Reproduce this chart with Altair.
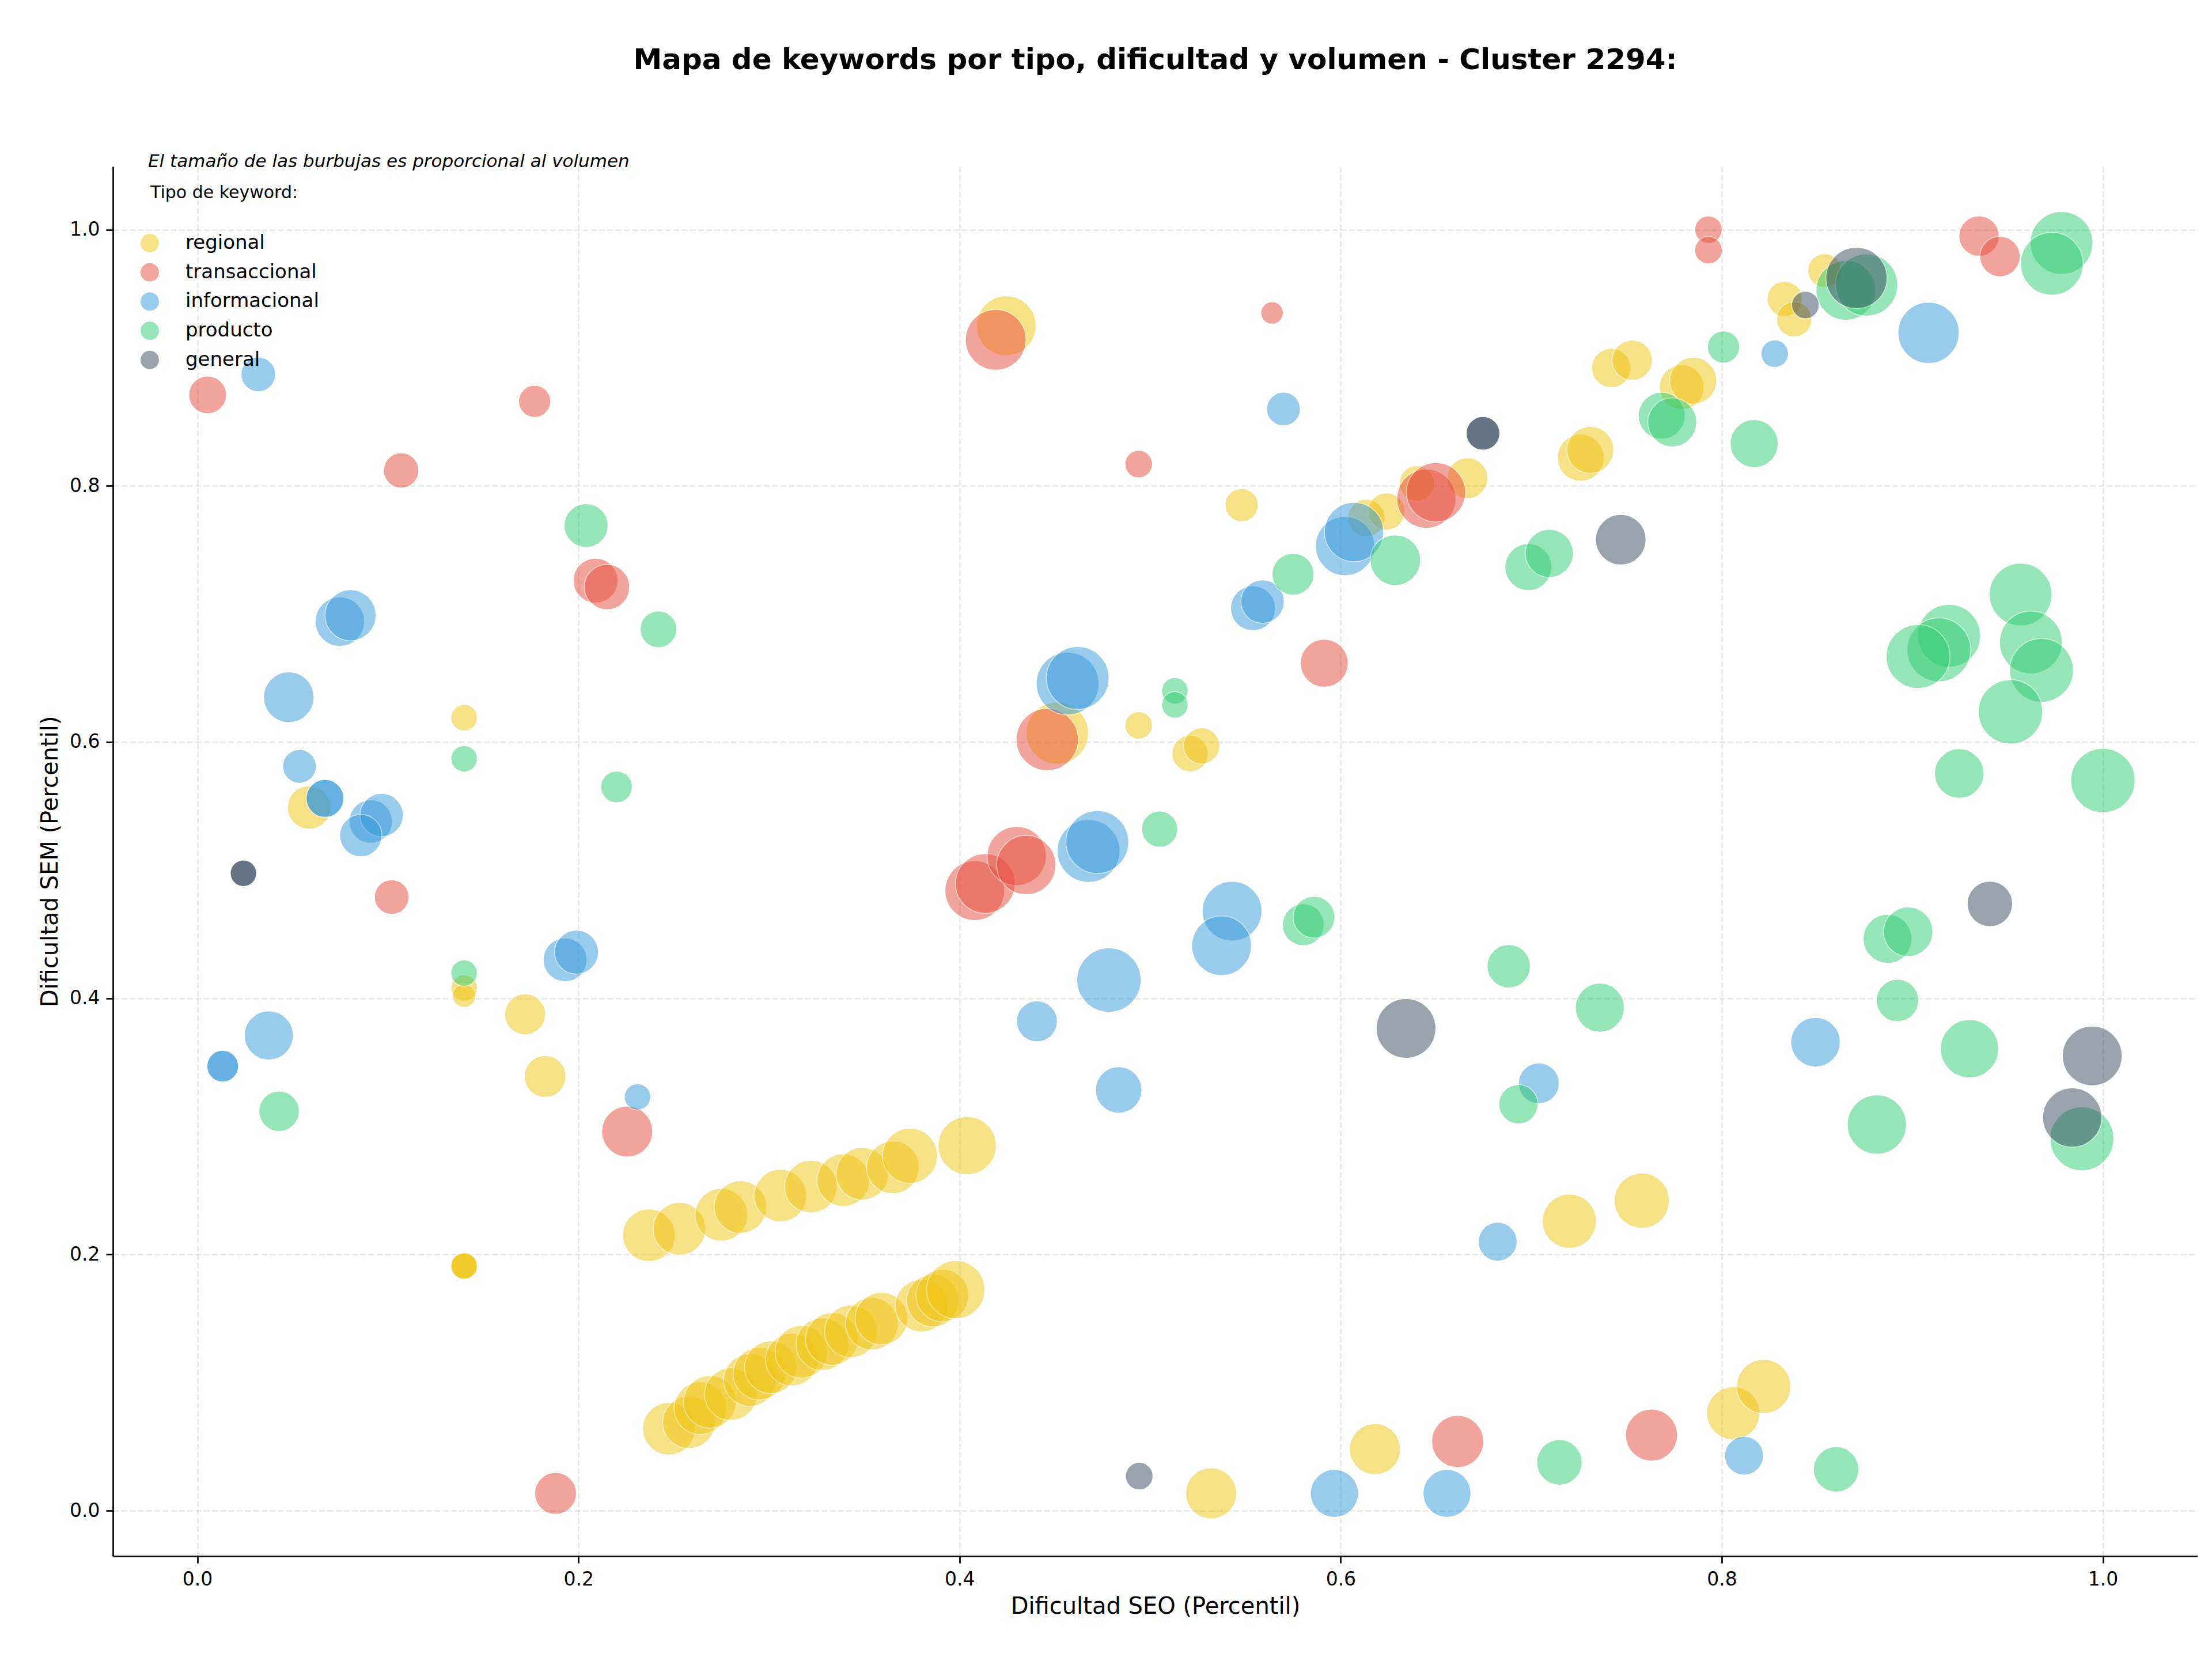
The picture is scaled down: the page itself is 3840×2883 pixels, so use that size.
import altair as alt
import pandas as pd

TITULO = "Mapa de keywords por tipo, dificultad y volumen - Cluster 2294:"
SUBTITULO = "El tamaño de las burbujas es proporcional al volumen"
TITULO_LEYENDA = "Tipo de keyword:"
TIPOS = ["regional", "transaccional", "informacional", "producto", "general"]
COLORES = ["#F1C40F", "#E74C3C", "#3498DB", "#2ECC71", "#34495E"]
TICKS = [0.0, 0.2, 0.4, 0.6, 0.8, 1.0]

# --- regional ---
reg_seo = [0.0587, 0.140, 0.140, 0.140, 0.172, 0.1825, 0.140, 0.140, 0.140,
           0.237, 0.253, 0.275, 0.285, 0.306, 0.322, 0.339, 0.349, 0.365, 0.374, 0.404,
           0.2475, 0.258, 0.264, 0.269, 0.280, 0.290, 0.295, 0.301, 0.312, 0.317,
           0.328, 0.333, 0.343, 0.354, 0.359, 0.380, 0.386, 0.391, 0.398,
           0.4245, 0.4513, 0.494, 0.521, 0.527, 0.548, 0.6135, 0.624, 0.640, 0.6665,
           0.532, 0.618, 0.720, 0.758, 0.806, 0.822,
           0.726, 0.731, 0.742, 0.753, 0.779, 0.785, 0.833, 0.838, 0.854]
reg_sem = [0.549, 0.619, 0.408, 0.402, 0.3875, 0.339, 0.191, 0.191, 0.191,
           0.215, 0.220, 0.231, 0.237, 0.246, 0.253, 0.258, 0.263, 0.268, 0.277, 0.285,
           0.064, 0.069, 0.080, 0.085, 0.091, 0.102, 0.107, 0.112, 0.118, 0.124,
           0.130, 0.134, 0.140, 0.146, 0.150, 0.160, 0.164, 0.168, 0.1725,
           0.925, 0.607, 0.613, 0.591, 0.597, 0.785, 0.775, 0.780, 0.802, 0.806,
           0.0135, 0.048, 0.226, 0.242, 0.076, 0.097,
           0.822, 0.828, 0.892, 0.898, 0.877, 0.882, 0.946, 0.930, 0.968]
reg_vol = [723, 270, 270, 212, 640, 672, 270, 270, 270,
           1061, 1061, 1061, 1061, 1061, 1061, 1061, 1061, 1061, 1166, 1300,
           1061, 1061, 1061, 1061, 1061, 1061, 1061, 1061, 1061, 1061,
           1061, 1061, 1061, 1061, 1061, 1061, 1061, 1061, 1300,
           1369, 1488, 292, 504, 504, 423, 533, 533, 476, 640,
           1000, 1000, 1124, 1166, 1082, 1124,
           846, 846, 593, 624, 774, 846, 476, 476, 436]

# --- transaccional ---
tra_seo = [0.0054, 0.177, 0.107, 0.209, 0.215, 0.102, 0.2256, 0.188, 0.419, 0.564,
           0.494, 0.645, 0.650, 0.5914, 0.446, 0.408, 0.4135, 0.430, 0.435, 0.6614,
           0.7631, 0.793, 0.793, 0.935, 0.946]
tra_sem = [0.871, 0.866, 0.812, 0.726, 0.721, 0.479, 0.296, 0.0135, 0.914, 0.935,
           0.817, 0.790, 0.795, 0.6616, 0.602, 0.484, 0.4896, 0.511, 0.504, 0.054,
           0.059, 1.0, 0.984, 0.995, 0.979]
tra_vol = [548, 397, 476, 774, 792, 462, 1000, 672, 1416, 194,
           292, 1346, 1346, 884, 1488, 1369, 1369, 1346, 1346, 1040,
           1040, 292, 292, 624, 624]

# --- informacional ---
inf_seo = [0.032, 0.0748, 0.0804, 0.048, 0.0536, 0.067, 0.067, 0.091, 0.0967, 0.0858,
           0.193, 0.199, 0.0375, 0.0133, 0.0133, 0.231, 0.570, 0.6023, 0.607, 0.554,
           0.559, 0.4567, 0.462, 0.4677, 0.4723, 0.543, 0.5375, 0.4784, 0.4406, 0.4835,
           0.5967, 0.6558, 0.6824, 0.704, 0.8117, 0.8492, 0.8278, 0.9085]
inf_sem = [0.887, 0.694, 0.699, 0.635, 0.581, 0.556, 0.556, 0.538, 0.543, 0.527,
           0.430, 0.436, 0.371, 0.347, 0.347, 0.323, 0.860, 0.753, 0.764, 0.7045,
           0.7097, 0.6457, 0.650, 0.515, 0.522, 0.468, 0.441, 0.4142, 0.382, 0.3284,
           0.0135, 0.0135, 0.210, 0.3336, 0.0429, 0.3657, 0.9032, 0.9195]
inf_vol = [462, 941, 1000, 980, 436, 548, 548, 723, 723, 689,
           740, 740, 922, 384, 384, 270, 436, 1346, 1346, 774,
           723, 1513, 1513, 1513, 1513, 1369, 1369, 1588, 640, 828,
           884, 884, 578, 640, 578, 941, 292, 1440]

# --- producto ---
pro_seo = [0.204, 0.242, 0.140, 0.220, 0.140, 0.0429, 0.513, 0.513, 0.505, 0.575,
           0.6287, 0.5804, 0.586, 0.6882, 0.736, 0.6933, 0.7148, 0.86, 0.887, 0.8978,
           0.8922, 0.93, 0.8814, 0.989, 0.6985, 0.7095, 0.7685, 0.774, 0.817, 0.8009,
           0.8651, 0.876, 0.9783, 0.9732, 0.9568, 0.9193, 0.9139, 0.903, 0.9622, 0.9678,
           0.9515, 0.9246, 1.0]
pro_sem = [0.769, 0.688, 0.587, 0.565, 0.4197, 0.3118, 0.640, 0.629, 0.532, 0.731,
           0.742, 0.4574, 0.4633, 0.425, 0.3927, 0.3173, 0.0377, 0.0322, 0.4464, 0.4519,
           0.3983, 0.3606, 0.3014, 0.2903, 0.7366, 0.7473, 0.8548, 0.8496, 0.833, 0.9084,
           0.9526, 0.9568, 0.9896, 0.9734, 0.7152, 0.683, 0.672, 0.6668, 0.6778, 0.656,
           0.6236, 0.5755, 0.570]
pro_vol = [740, 518, 270, 384, 270, 624, 270, 270, 504, 672,
           980, 672, 672, 723, 922, 593, 792, 792, 922, 941,
           689, 1300, 1346, 1563, 846, 884, 846, 922, 884, 397,
           1369, 1488, 1513, 1513, 1513, 1513, 1563, 1563, 1513, 1563,
           1588, 941, 1588]

# --- general ---
gen_seo = [0.0242, 0.0242, 0.6747, 0.6747, 0.747, 0.6343, 0.4943, 0.9407, 0.9944, 0.9839,
           0.8707, 0.8439]
gen_sem = [0.4976, 0.4976, 0.841, 0.841, 0.758, 0.3765, 0.027, 0.4737, 0.355, 0.3069,
           0.9623, 0.9412]
gen_vol = [270, 270, 436, 436, 980, 1369, 292, 792, 1369, 1346,
           1440, 292]

frames = []
for tipo, xs, ys, vs in [
    ("regional", reg_seo, reg_sem, reg_vol),
    ("transaccional", tra_seo, tra_sem, tra_vol),
    ("informacional", inf_seo, inf_sem, inf_vol),
    ("producto", pro_seo, pro_sem, pro_vol),
    ("general", gen_seo, gen_sem, gen_vol),
]:
    frames.append(pd.DataFrame({"tipo": tipo, "seo": xs, "sem": ys, "volumen": vs}))
df = pd.concat(frames, ignore_index=True)
df["orden"] = range(len(df))

FONT = "DejaVu Sans"

points = alt.Chart(df).mark_circle(
    opacity=0.5, stroke="white", strokeWidth=1.6
).encode(
    x=alt.X("seo:Q", scale=alt.Scale(domain=[-0.0443, 1.0497], nice=False, zero=False),
            axis=alt.Axis(title="Dificultad SEO (Percentil)", values=TICKS, format=".1f",
                          titlePadding=10)),
    y=alt.Y("sem:Q", scale=alt.Scale(domain=[-0.0355, 1.0493], nice=False, zero=False),
            axis=alt.Axis(title="Dificultad SEM (Percentil)", values=TICKS, format=".1f",
                          titlePadding=13, labelPadding=11)),
    size=alt.Size("volumen:Q", scale=alt.Scale(type="linear", domain=[0, 1600], range=[0, 12566], zero=True),
                  legend=None),
    color=alt.Color("tipo:N", scale=alt.Scale(domain=TIPOS, range=COLORES),
                    legend=alt.Legend(title=None, orient="none", legendX=47, legendY=116,
                                      symbolType="circle", symbolSize=1018, symbolStrokeWidth=0,
                                      symbolOpacity=0.5, labelFontSize=34, labelFont=FONT,
                                      labelColor="black", labelOffset=45, rowPadding=16.7,
                                      labelLimit=0, padding=0)),
    order=alt.Order("orden:Q"),
)

textos = pd.DataFrame({
    "t": [SUBTITULO, TITULO_LEYENDA],
    "estilo": ["italic", "normal"],
})

sub = alt.Chart(textos.iloc[[0]]).mark_text(
    align="left", baseline="alphabetic", fontSize=31, fontStyle="italic", font=FONT, color="black"
).encode(x=alt.value(61), y=alt.value(1), text="t:N")

leg_title = alt.Chart(textos.iloc[[1]]).mark_text(
    align="left", baseline="alphabetic", fontSize=30, font=FONT, color="black"
).encode(x=alt.value(65), y=alt.value(55), text="t:N")

chart = alt.layer(points, sub, leg_title).properties(
    width=3619, height=2412,
    title=alt.TitleParams(TITULO, fontSize=50, font=FONT, fontWeight="bold", color="black",
                          anchor="middle", frame="group", offset=95, baseline="alphabetic"),
    padding={"left": 196, "top": 289, "right": 25, "bottom": 182},
    autosize="none",
    background="white",
).configure_view(stroke=None).configure_axis(
    labelFont=FONT, labelFontSize=33, labelColor="black", labelFlush=False,
    tickSize=12, tickWidth=2.7, tickColor="black",
    domainColor="black", domainWidth=2.7,
    grid=True, gridColor="#b0b0b0", gridOpacity=0.3, gridWidth=2.7, gridDash=[10, 4.3],
    titleFont=FONT, titleFontSize=40, titleFontWeight="normal", titleColor="black",
    labelPadding=12,
)

chart.save("out.html", embed_options={"renderer": "svg", "actions": False})
